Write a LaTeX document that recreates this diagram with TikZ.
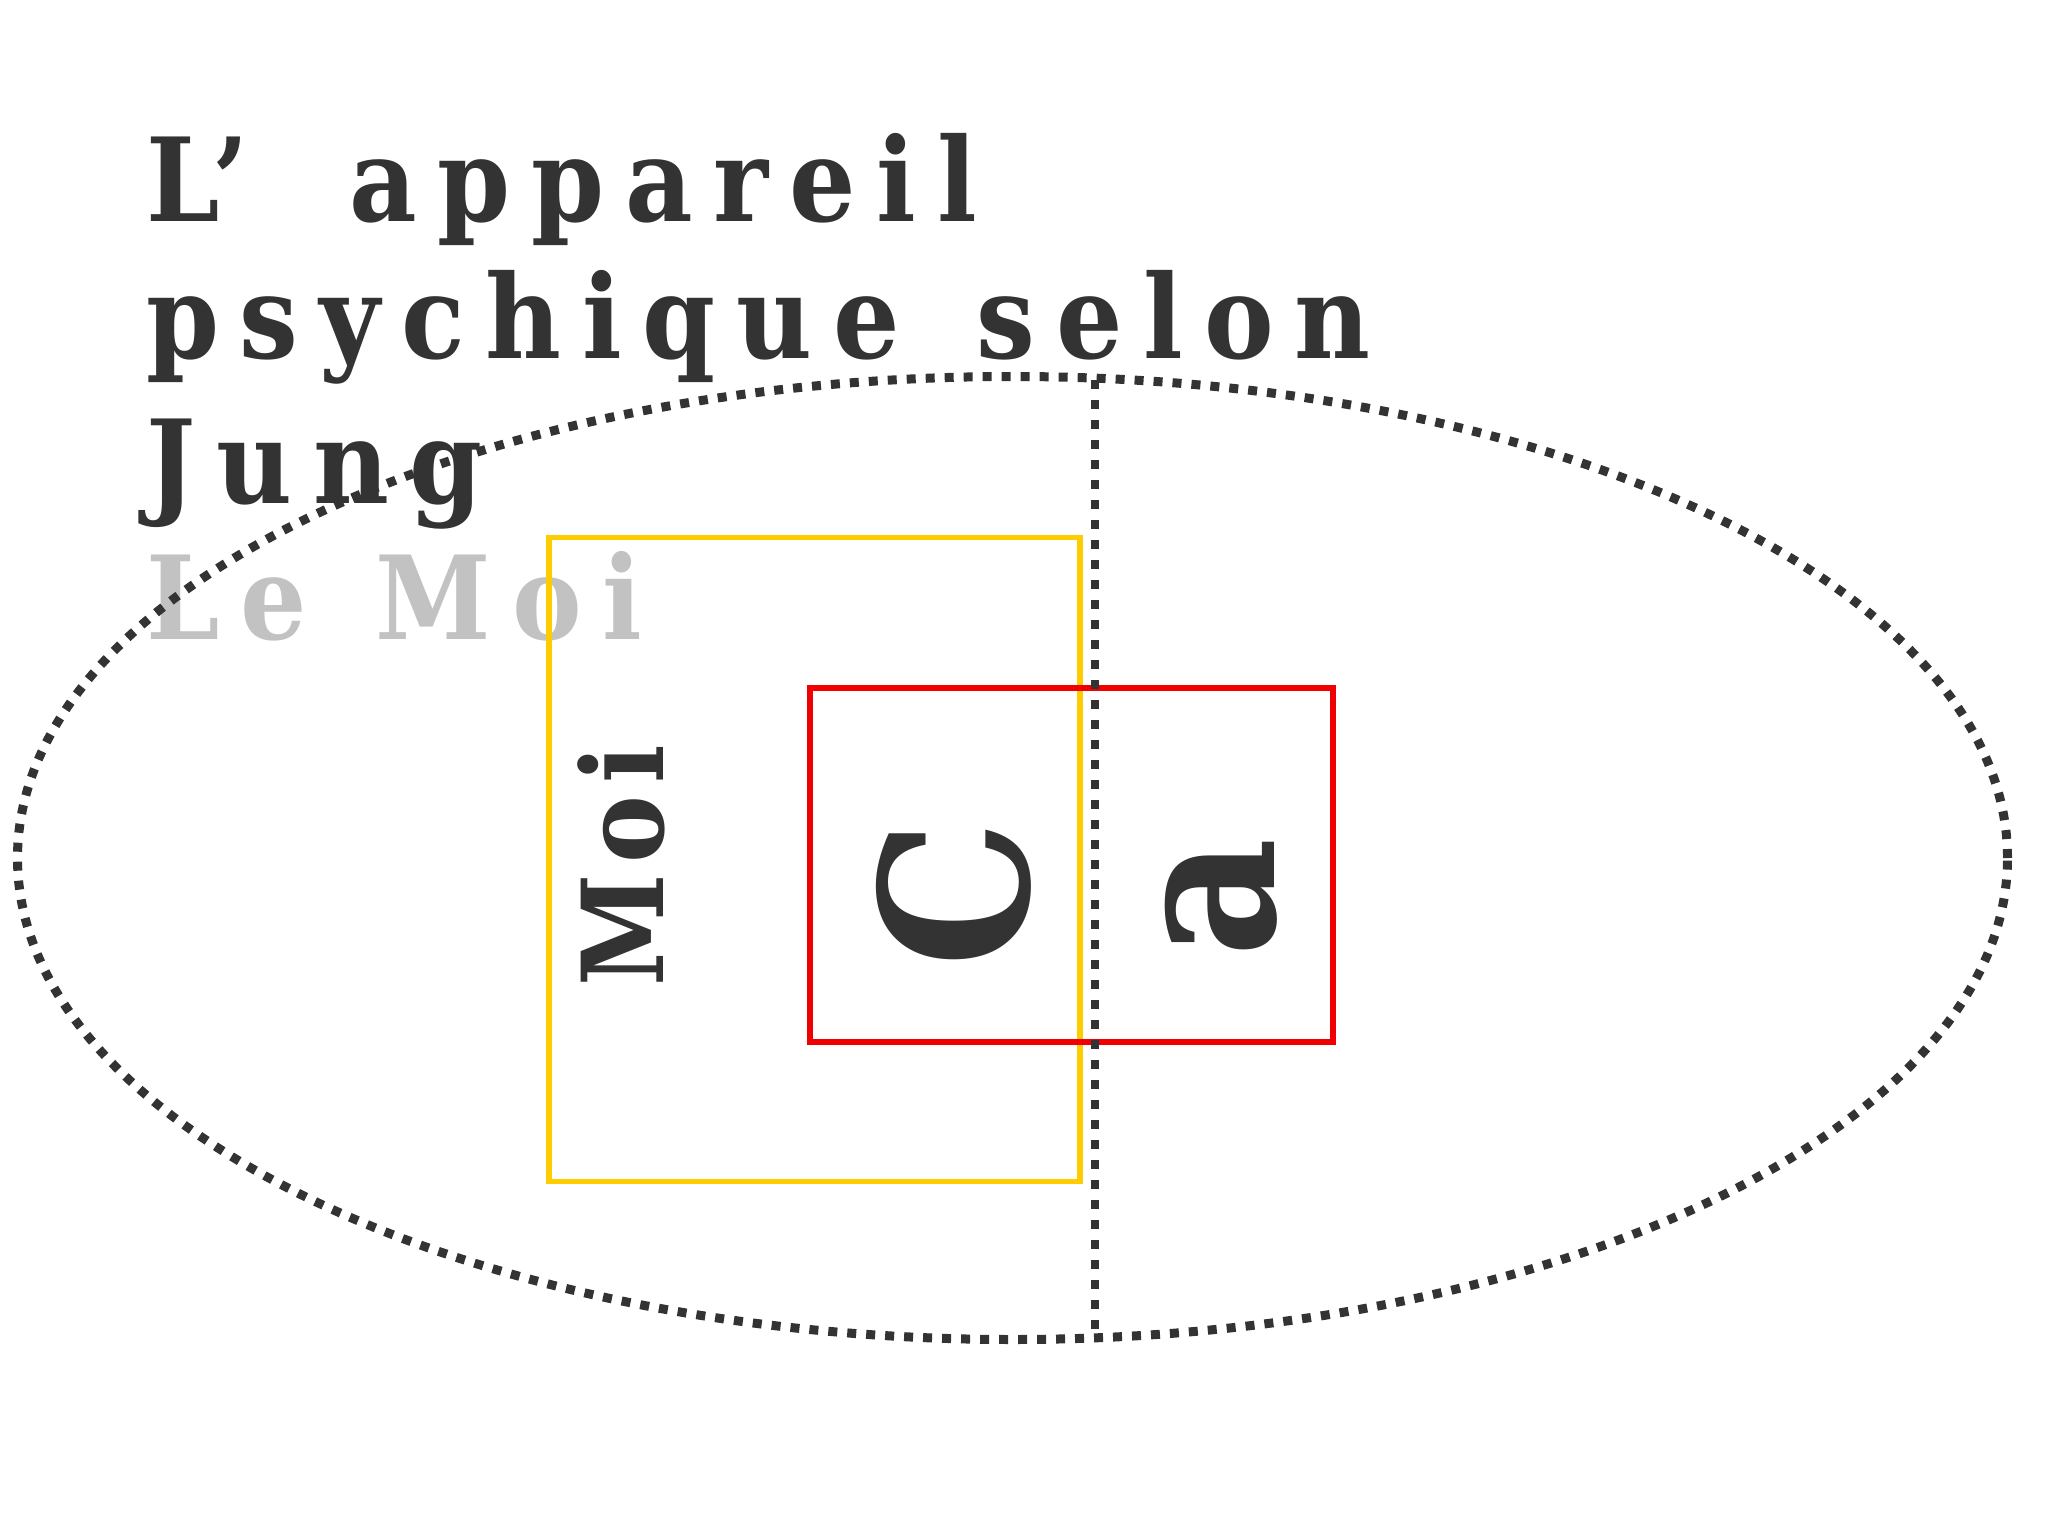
\documentclass[tikz,border=0pt]{standalone}
\usepackage{fontspec}
\usepackage{tikz}
\usetikzlibrary{shapes.geometric}
\setmainfont{DejaVu Serif}
\newfontfamily\jungfont{DejaVu Serif Condensed}[LetterSpace=18]
\newfontfamily\moifont{DejaVu Serif Condensed}[LetterSpace=10]
\newfontfamily\bigfont{DejaVu Serif Condensed}
\definecolor{ink}{HTML}{333333}
\definecolor{faded}{HTML}{C2C2C2}
\definecolor{moiyellow}{HTML}{FFCC00}
\definecolor{cared}{HTML}{F00000}
\tikzstyle{titletext} = [anchor=base west, inner sep=0pt, text=ink, font=\jungfont\bfseries\fontsize{116pt}{139pt}\selectfont]
\tikzstyle{subtitle} = [titletext, text=faded]
\tikzstyle{psyche} = [draw=ink, ellipse, line width=9pt, dash pattern=on 9pt off 10pt, minimum width=1990pt, minimum height=963pt, inner sep=0pt]
\tikzstyle{divider} = [draw=ink, line width=8pt, dash pattern=on 9pt off 11pt]
\tikzstyle{moibox} = [draw=moiyellow, rectangle, line width=5.5pt, minimum width=531pt, minimum height=644pt, inner sep=0pt]
\tikzstyle{cabox} = [draw=cared, rectangle, line width=6pt, minimum width=523pt, minimum height=354pt, inner sep=0pt]
\tikzstyle{vertical} = [rotate=90, anchor=base, inner sep=0pt, text=ink, font=\moifont\bfseries\fontsize{113pt}{113pt}\selectfont]
\tikzstyle{bigletter} = [vertical, font=\bigfont\bfseries\fontsize{205pt}{205pt}\selectfont]

\begin{document}
\begin{tikzpicture}[x=1pt, y=-1pt]
	\useasboundingbox (0,0) rectangle (2048,1536);
	\node [titletext] (appareil) at (146,221) {L’\hspace{43pt} appareil};
	\node [titletext] (psychique) at ([yshift=-137pt]appareil.base west) {psychique\hspace{20pt} selon};
	\node [titletext] (jung) at ([yshift=-145pt]psychique.base west) {Jung};
	\node [subtitle] (lemoi) at ([yshift=-136pt]jung.base west) {Le\hspace{12pt} Moi};

	\node [psyche] (psyche) at (1012.5,858) {};
	\node [moibox] (moibox) at (814.3,859.4) {};
	\node [cabox] (cabox) at (1071.5,864.5) {};
	\coordinate (divtop) at (1095,380);
	\coordinate (divbot) at (1095,1337);
	\draw [divider] (divtop) -- (divbot);

	\node [vertical] (moi) at (663,866) {Moi};
	\node [bigletter] (c) at (1028,894) {C};
	\node [bigletter] (a) at ([xshift=246pt, yshift=-4pt]c.base) {a};
\end{tikzpicture}
\end{document}
